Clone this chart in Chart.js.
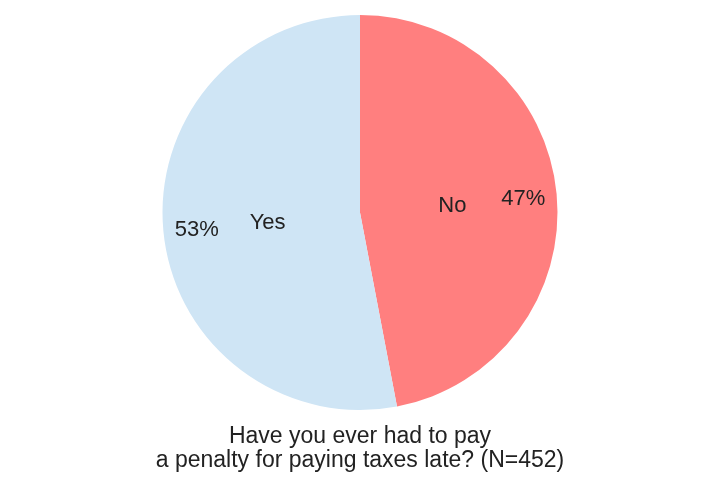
<!DOCTYPE html>
<html>
<head>
<meta charset="utf-8">
<script src="https://cdn.jsdelivr.net/npm/chart.js@4/dist/chart.umd.min.js"></script>
<style>
  html, body { margin: 0; padding: 0; background: #fff; }
  #pie { display: block; }
</style>
</head>
<body>
<canvas id="pie" width="720" height="480"></canvas>
<script>
const categories = ['No', 'Yes']
const shares = [47, 53]
const sliceColors = ['#FF7F7F', '#CFE5F5']
const titleLines = ['Have you ever had to pay', 'a penalty for paying taxes late? (N=452)']

// labels inside each slice: name near the middle, percent near the rim
const sliceLabels = {
    id: 'sliceLabels',
    afterDatasetsDraw(chart) {
        const ctx = chart.ctx
        const arcs = chart.getDatasetMeta(0).data
        ctx.save()
        ctx.fillStyle = '#222'
        ctx.font = '22px "Liberation Sans", Arial, sans-serif'
        ctx.textAlign = 'center'
        ctx.textBaseline = 'middle'
        arcs.forEach((arc, i) => {
            const mid = (arc.startAngle + arc.endAngle) / 2
            const r = arc.outerRadius
            ctx.fillText(categories[i], arc.x + Math.cos(mid) * r * 0.47, arc.y + Math.sin(mid) * r * 0.47 + 2)
            ctx.fillText(shares[i] + '%', arc.x + Math.cos(mid) * r * 0.83, arc.y + Math.sin(mid) * r * 0.83 + 2)
        })
        ctx.restore()
    }
}

const bottomTitle = {
    id: 'bottomTitle',
    afterDraw(chart) {
        const ctx = chart.ctx
        const cx = (chart.chartArea.left + chart.chartArea.right) / 2
        ctx.save()
        ctx.fillStyle = '#222'
        ctx.font = '23px "Liberation Sans", Arial, sans-serif'
        ctx.textAlign = 'center'
        ctx.textBaseline = 'alphabetic'
        ctx.fillText(titleLines[0], cx, 443)
        ctx.fillText(titleLines[1], cx, 467)
        ctx.restore()
    }
}

new Chart(document.getElementById('pie'), {
    type: 'pie',
    data: {
        labels: categories,
        datasets: [{
            data: shares,
            backgroundColor: sliceColors,
            borderWidth: 0
        }]
    },
    options: {
        responsive: false,
        animation: false,
        layout: { padding: { top: 15, bottom: 70, left: 0, right: 0 } },
        plugins: {
            legend: { display: false },
            tooltip: { enabled: false }
        }
    },
    plugins: [sliceLabels, bottomTitle]
})
</script>
</body>
</html>
